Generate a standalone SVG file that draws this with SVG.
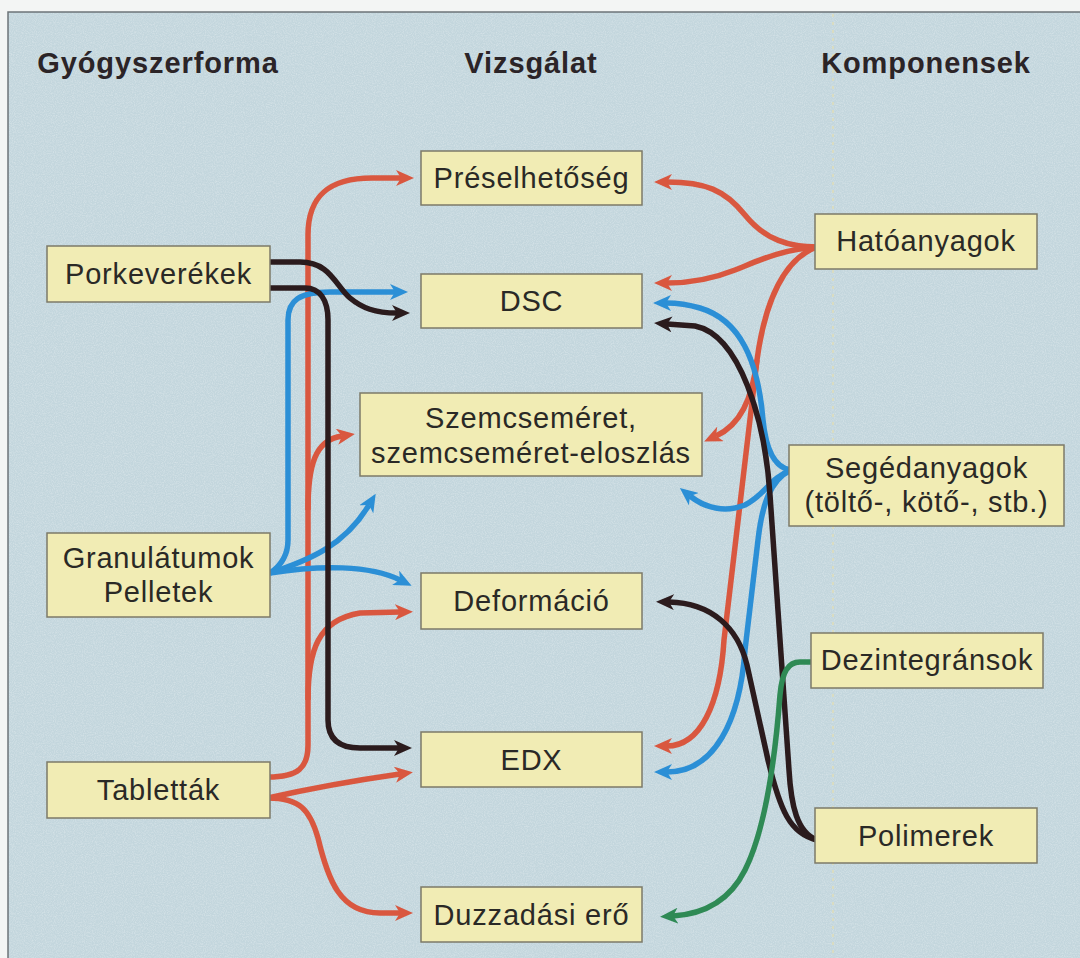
<svg xmlns="http://www.w3.org/2000/svg" width="1080" height="958" viewBox="0 0 1080 958">
<defs>
<style>
.hdr{font-family:"Liberation Sans",Arial,sans-serif;font-weight:bold;font-size:29px;letter-spacing:0.9px;fill:#2b2427;text-anchor:middle}
.lbl{font-family:"Liberation Sans",Arial,sans-serif;font-size:29px;letter-spacing:0.8px;fill:#2a2926;text-anchor:middle}
.box{fill:#f1ecb4;stroke:#7c7a68;stroke-width:1.5}
.c{fill:none;stroke-width:5.5;stroke-linecap:butt;stroke-linejoin:round}
.r{stroke:#d9573f}
.b{stroke:#2b8fd6}
.k{stroke:#2b1b1d}
.g{stroke:#2f8a55}
</style>
<filter id="grain" x="0" y="0" width="100%" height="100%">
<feTurbulence type="fractalNoise" baseFrequency="0.9" numOctaves="2" seed="3" result="n"/>
<feColorMatrix in="n" type="matrix" values="0 0 0 0 1  0 0 0 0 1  0 0 0 0 1  0 0 0 -1.6 1.0"/>
</filter>
<marker id="ar" viewBox="0 0 18 16" refX="5" refY="8" markerWidth="18" markerHeight="16" markerUnits="userSpaceOnUse" orient="auto"><path d="M0,0 L18,8 L0,16 L5,8 Z" fill="#d9573f"/></marker>
<marker id="ab" viewBox="0 0 18 16" refX="5" refY="8" markerWidth="18" markerHeight="16" markerUnits="userSpaceOnUse" orient="auto"><path d="M0,0 L18,8 L0,16 L5,8 Z" fill="#2b8fd6"/></marker>
<marker id="ak" viewBox="0 0 18 16" refX="5" refY="8" markerWidth="18" markerHeight="16" markerUnits="userSpaceOnUse" orient="auto"><path d="M0,0 L18,8 L0,16 L5,8 Z" fill="#2b1b1d"/></marker>
<marker id="ag" viewBox="0 0 18 16" refX="5" refY="8" markerWidth="18" markerHeight="16" markerUnits="userSpaceOnUse" orient="auto"><path d="M0,0 L18,8 L0,16 L5,8 Z" fill="#2f8a55"/></marker>
</defs>
<rect x="0" y="0" width="1080" height="958" fill="#f3f5f4"/>
<rect x="8" y="12" width="1090" height="960" fill="#c3d6dd" stroke="#6d7478" stroke-width="1.5"/>
<rect x="9" y="13" width="1071" height="945" fill="#fff" filter="url(#grain)" opacity="0.35"/>
<line x1="833" y1="14" x2="833" y2="958" stroke="#d9dcc2" stroke-width="2" stroke-dasharray="3 5"/>
<g id="headers">
<text class="hdr" x="158" y="73">Gyógyszerforma</text>
<text class="hdr" x="531" y="73">Vizsgálat</text>
<text class="hdr" x="926" y="73">Komponensek</text>
</g>
<g id="connectors">
<path class="c r" d="M268,777 C298,777 308,768 308,745 L308,235 C308,195 330,178 372,178 L401,178" marker-end="url(#ar)"/>
<path class="c r" d="M308,510 C308,465 315,440 342,436" marker-end="url(#ar)"/>
<path class="c r" d="M308,700 C308,650 318,620 360,613 L400,612" marker-end="url(#ar)"/>
<path class="c r" d="M268,798 Q330,784 400,774" marker-end="url(#ar)"/>
<path class="c r" d="M268,798 C300,798 310,810 318,838 C328,880 340,913 380,913 L400,913" marker-end="url(#ar)"/>
<path class="c r" d="M817,247 C790,247 765,240 745,215 C725,190 705,182 667,182" marker-end="url(#ar)"/>
<path class="c r" d="M817,247 C780,250 760,260 735,270 C715,278 695,283 667,283" marker-end="url(#ar)"/>
<path class="c r" d="M817,247 C785,258 765,300 757,360 L724,640 C720,705 700,746 667,746" marker-end="url(#ar)"/>
<path class="c r" d="M757,360 C752,400 740,425 716,436" marker-end="url(#ar)"/>
<path class="c b" d="M270,573 C282,565 288,555 288,540 L288,320 C288,300 300,292 330,292 L395,292" marker-end="url(#ab)"/>
<path class="c b" d="M270,573 C310,560 345,545 369,505" marker-end="url(#ab)"/>
<path class="c b" d="M270,573 C320,565 370,565 400,580" marker-end="url(#ab)"/>
<path class="c b" d="M791,470 C775,468 766,450 763,420 C758,360 740,320 700,308 C690,305 680,303 666,303" marker-end="url(#ab)"/>
<path class="c b" d="M791,470 C770,478 765,495 745,505 C725,513 705,508 690,496" marker-end="url(#ab)"/>
<path class="c b" d="M791,470 C770,480 762,505 758,540 L745,650 C740,720 715,772 667,772" marker-end="url(#ab)"/>
<path class="c k" d="M268,262 L300,262 C330,262 335,285 350,298 C362,308 375,313 397,313" marker-end="url(#ak)"/>
<path class="c k" d="M268,288 L305,288 C320,288 328,300 328,320 L328,720 C328,740 340,748 360,748 L399,748" marker-end="url(#ak)"/>
<path class="c k" d="M817,840 C797,833 791,805 789,770 L770,495 C765,420 740,335 695,326 L667,324" marker-end="url(#ak)"/>
<path class="c k" d="M817,840 C790,834 780,810 768,760 L747,665 C738,628 712,603 669,602" marker-end="url(#ak)"/>
<path class="c g" d="M813,662 L800,662 C788,662 782,672 780,695 C775,760 765,830 745,870 C730,900 705,914 673,916" marker-end="url(#ag)"/>
</g>
<g id="porkeverekek"><rect class="box" x="47" y="246" width="223" height="56"/><text class="lbl" x="158.5" y="284">Porkeverékek</text></g>
<g id="granulatumok"><rect class="box" x="47" y="533" width="223" height="84"/><text class="lbl" x="158.5" y="568">Granulátumok</text><text class="lbl" x="158.5" y="602">Pelletek</text></g>
<g id="tablettak"><rect class="box" x="47" y="762" width="223" height="56"/><text class="lbl" x="158.5" y="800">Tabletták</text></g>
<g id="preselhetoseg"><rect class="box" x="421" y="151" width="221" height="54"/><text class="lbl" x="531.5" y="188">Préselhetőség</text></g>
<g id="dsc"><rect class="box" x="421" y="274" width="221" height="54"/><text class="lbl" x="531.5" y="311">DSC</text></g>
<g id="szemcsemeret"><rect class="box" x="360" y="393" width="342" height="83"/><text class="lbl" x="531" y="428">Szemcseméret,</text><text class="lbl" x="531" y="463">szemcseméret-eloszlás</text></g>
<g id="deformacio"><rect class="box" x="421" y="573" width="221" height="56"/><text class="lbl" x="531.5" y="611">Deformáció</text></g>
<g id="edx"><rect class="box" x="421" y="732" width="221" height="55"/><text class="lbl" x="531.5" y="770">EDX</text></g>
<g id="duzzadasi"><rect class="box" x="421" y="887" width="221" height="55"/><text class="lbl" x="531.5" y="925">Duzzadási erő</text></g>
<g id="hatoanyagok"><rect class="box" x="815" y="214" width="222" height="55"/><text class="lbl" x="926" y="251">Hatóanyagok</text></g>
<g id="segedanyagok"><rect class="box" x="789" y="445" width="275" height="81"/><text class="lbl" x="926.5" y="478">Segédanyagok</text><text class="lbl" x="926.5" y="512">(töltő-, kötő-, stb.)</text></g>
<g id="dezintegransok"><rect class="box" x="811" y="633" width="232" height="55"/><text class="lbl" x="927" y="670">Dezintegránsok</text></g>
<g id="polimerek"><rect class="box" x="815" y="808" width="222" height="55"/><text class="lbl" x="926" y="846">Polimerek</text></g>
</svg>
